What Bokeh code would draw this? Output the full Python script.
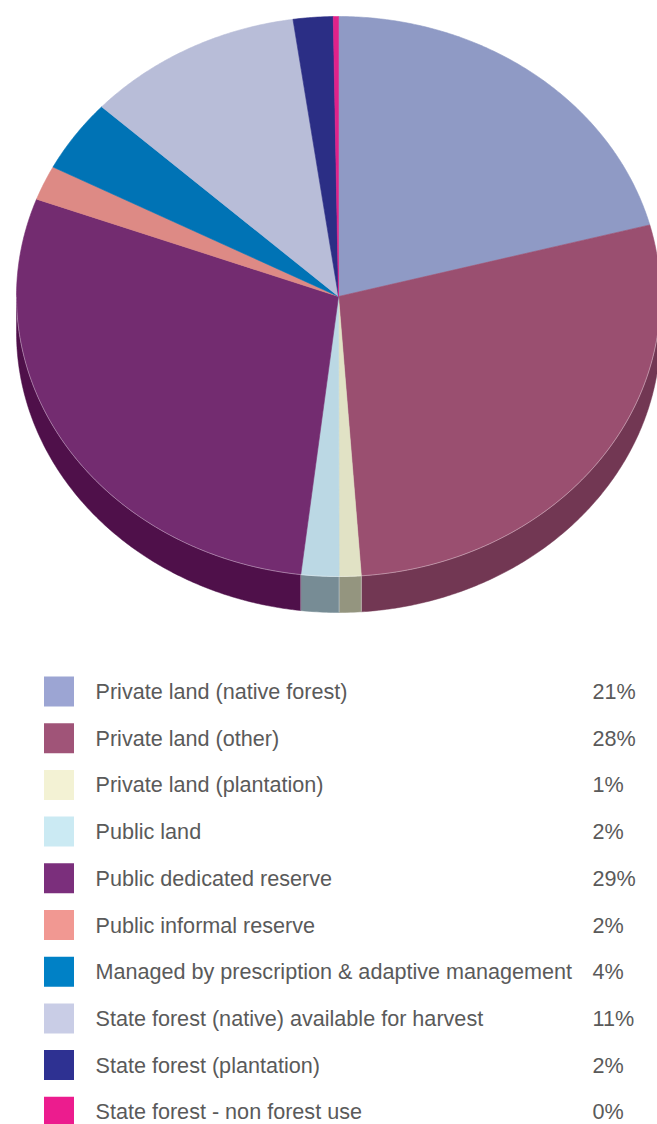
import numpy as np
from bokeh.plotting import figure
from bokeh.models import Range1d
from bokeh.embed import file_html
from bokeh.resources import INLINE
from bokeh.core.properties import value

# ---------------- data ----------------
categories = [
    "Private land (native forest)",
    "Private land (other)",
    "Private land (plantation)",
    "Public land",
    "Public dedicated reserve",
    "Public informal reserve",
    "Managed by prescription & adaptive management",
    "State forest (native) available for harvest",
    "State forest (plantation)",
    "State forest - non forest use",
]
shares = [20.9, 28.0, 1.1, 1.9, 28.8, 2.0, 4.2, 10.9, 2.0, 0.26]
pct_labels = ["21%", "28%", "1%", "2%", "29%", "2%", "4%", "11%", "2%", "0%"]

# ---------------- styles ----------------
top_colors = ["#8F9AC5", "#9A4F70", "#E1E2C5", "#BBD8E4", "#732C70",
              "#DD8A85", "#0073B5", "#B8BDD8", "#2B2E85", "#E0228A"]
side_colors = ["#646C8A", "#723753", "#94957F", "#778C95", "#4F104A",
               "#9A605D", "#00507F", "#818497", "#1E205D", "#9C1860"]
legend_colors = ["#9CA5D3", "#A05478", "#F3F2D4", "#CBEAF3", "#7B2F7C",
                 "#F19892", "#0081C6", "#C9CDE6", "#2E3192", "#EC1C8E"]

W, H = 657, 1124
CX, CY, RX, RY, DEPTH = 338, 296, 322, 280, 36

p = figure(width=W, height=H, output_backend="svg", toolbar_location=None,
           x_range=Range1d(0, W), y_range=Range1d(H, 0), min_border=0)
p.axis.visible = False
p.grid.visible = False
p.outline_line_color = None
p.background_fill_color = "white"
p.border_fill_color = "white"

tot = float(sum(shares))
cum = np.concatenate([[0.0], np.cumsum(shares)]) / tot * 2 * np.pi


def pt(t, dy=0.0):
    return CX + RX * np.sin(t), CY - RY * np.cos(t) + dy


# sides (front half only)
sx, sy, sc = [], [], []
bx0, by0, bx1, by1 = [], [], [], []
for i, (a, b) in enumerate(zip(cum[:-1], cum[1:])):
    a2, b2 = max(a, np.pi / 2), min(b, 3 * np.pi / 2)
    if b2 > a2:
        t = np.linspace(a2, b2, max(4, int((b2 - a2) * 180 / np.pi * 2)))
        x, y = pt(t)
        sx.append(list(x) + list(x[::-1]))
        sy.append(list(y) + list((y + DEPTH)[::-1]))
        sc.append(side_colors[i])
for c in cum[1:-1]:
    if np.pi / 2 < c < 3 * np.pi / 2:
        x, y = pt(c)
        bx0.append(x); by0.append(y); bx1.append(x); by1.append(y + DEPTH)

p.patches(sx, sy, fill_color=sc, line_color=sc, line_width=0.5)
p.segment(bx0, by0, bx1, by1, line_color="white", line_alpha=0.35, line_width=1)

# top faces
tx, ty = [], []
for a, b in zip(cum[:-1], cum[1:]):
    t = np.linspace(a, b, max(4, int((b - a) * 180 / np.pi * 2)))
    x, y = pt(t)
    tx.append([CX] + list(x))
    ty.append([CY] + list(y))
p.patches(tx, ty, fill_color=top_colors, line_color=top_colors, line_width=0.6)

# front rim highlight
t = np.linspace(np.pi / 2, 3 * np.pi / 2, 300)
x, y = pt(t)
p.line(x, y, line_color="white", line_alpha=0.35, line_width=1)

# ---------------- legend ----------------
row_y = [691 + 46.7 * i for i in range(len(categories))]
p.rect(x=[58.5] * len(categories), y=row_y, width=30, height=30,
       fill_color=legend_colors, line_color=None)
p.text(x=[95] * len(categories), y=row_y, text=categories,
       text_baseline="middle", text_align="left",
       text_font=value("Liberation Sans"), text_font_size="21.6px",
       text_color="#5a5a5a")
p.text(x=[592] * len(categories), y=row_y, text=pct_labels,
       text_baseline="middle", text_align="left",
       text_font=value("Liberation Sans"), text_font_size="21.6px",
       text_color="#5a5a5a")

open("out.html", "w").write(file_html(p, INLINE))
